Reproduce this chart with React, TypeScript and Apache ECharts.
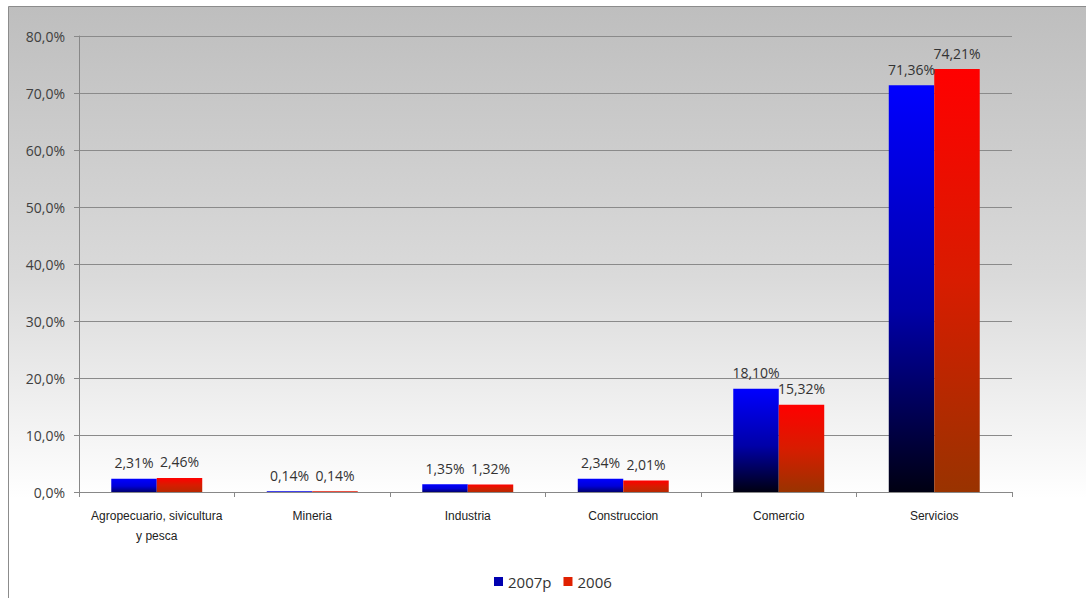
import React, { useEffect, useRef } from "react";
import * as echarts from "echarts";

const categories = [
  "Agropecuario, sivicultura\ny pesca",
  "Mineria",
  "Industria",
  "Construccion",
  "Comercio",
  "Servicios",
];
const series2007p = [2.31, 0.14, 1.35, 2.34, 18.1, 71.36];
const series2006 = [2.46, 0.14, 1.32, 2.01, 15.32, 74.21];
const yTicks = { min: 0, max: 80, interval: 10 };

const fmtPct = (v: number, d: number) => v.toFixed(d).replace(".", ",") + "%";

export default function App() {
  const ref = useRef<HTMLDivElement>(null);
  useEffect(() => {
    if (!ref.current) return;
    const chart = echarts.init(ref.current, undefined, { renderer: "svg" });
    const blueGrad = (v: number) =>
      new echarts.graphic.LinearGradient(0, 0, 0, 1, [
        { offset: 0, color: "#0000ff" },
        { offset: 0.55, color: v < 5 ? "#0000d8" : "#0000a8" },
        { offset: 1, color: v < 5 ? "#000070" : "#000012" },
      ]);
    const redGrad = (v: number) =>
      new echarts.graphic.LinearGradient(0, 0, 0, 1, [
        { offset: 0, color: "#ff0000" },
        { offset: 0.5, color: "#d81c00" },
        { offset: 1, color: v < 5 ? "#b82800" : "#993300" },
      ]);
    const labelCfg = {
      show: true,
      position: "top",
      distance: 9,
      fontSize: 14,
      color: "#333",
      formatter: (p: any) => fmtPct(p.value, 2),
    };
    chart.setOption({
      animation: false,
      textStyle: { fontFamily: "Open Sans, sans-serif" },
      graphic: [
        {
          type: "rect",
          z: -10,
          silent: true,
          shape: { x: 8.5, y: 6.5, width: 1100, height: 600 },
          style: {
            fill: new echarts.graphic.LinearGradient(0, 0, 0, 1, [
              { offset: 0, color: "#bebebe" },
              { offset: 0.45, color: "#dadada" },
              { offset: 0.82, color: "#ffffff" },
              { offset: 1, color: "#ffffff" },
            ]),
            stroke: "#8c8c8c",
            lineWidth: 1,
          },
        },
      ],
      grid: { left: 79, right: 74, top: 36, bottom: 106, containLabel: false },
      legend: {
        bottom: 4,
        left: 489,
        icon: "rect",
        itemWidth: 9,
        itemHeight: 9,
        itemGap: 12,
        itemTextGap: 4,
        textStyle: { fontSize: 15, color: "#333" },
        data: [
          { name: "2007p", itemStyle: { color: "#0000b0" } },
          { name: "2006", itemStyle: { color: "#e02000" } },
        ],
      },
      xAxis: {
        type: "category",
        data: categories,
        axisLine: { lineStyle: { color: "#888" } },
        axisTick: { show: true, length: 5, alignWithLabel: false, lineStyle: { color: "#888" } },
        axisLabel: {
          fontSize: 12,
          color: "#222",
          margin: 14,
          lineHeight: 20,
          fontFamily: "Liberation Sans, sans-serif",
          interval: 0,
        },
      },
      yAxis: {
        type: "value",
        min: yTicks.min,
        max: yTicks.max,
        interval: yTicks.interval,
        axisLine: { show: true, lineStyle: { color: "#888" } },
        axisTick: { show: true, length: 5, lineStyle: { color: "#888" } },
        splitLine: { lineStyle: { color: "#8a8a8a", width: 1 } },
        axisLabel: {
          fontSize: 14,
          color: "#404040",
          margin: 14,
          formatter: (v: number) => fmtPct(v, 1),
        },
      },
      series: [
        {
          name: "2007p",
          type: "bar",
          data: series2007p.map((v) => ({ value: v, itemStyle: { color: blueGrad(v) } })),
          barGap: "0%",
          barCategoryGap: "41.5%",
          itemStyle: { color: "#0000b0" },
          label: labelCfg,
        },
        {
          name: "2006",
          type: "bar",
          data: series2006.map((v) => ({ value: v, itemStyle: { color: redGrad(v) } })),
          barGap: "0%",
          barCategoryGap: "41.5%",
          itemStyle: { color: "#e02000" },
          label: labelCfg,
        },
      ],
    });
    return () => chart.dispose();
  }, []);
  return (
    <div
      ref={ref}
      style={{ position: "absolute", left: 0, top: 0, width: 1086, height: 598, background: "#fff" }}
    />
  );
}
